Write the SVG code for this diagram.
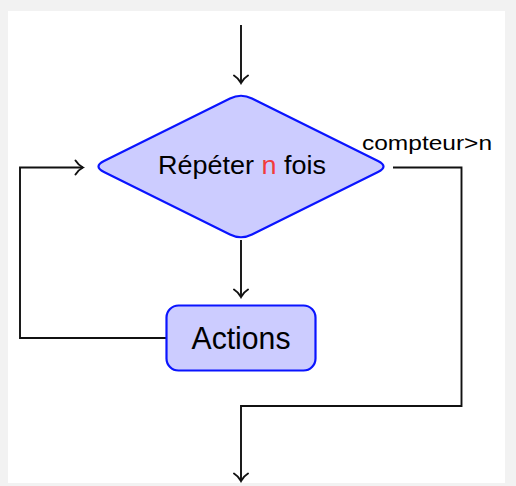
<svg xmlns="http://www.w3.org/2000/svg" width="516" height="486" viewBox="0 0 516 486">
<defs>
<style>
.node{fill:#ccccff;stroke:#0a14ff;stroke-width:2.2;stroke-linejoin:round}
.edge{fill:none;stroke:#111;stroke-width:1.9}
.lbl{font-family:"Liberation Sans","DejaVu Sans",sans-serif;fill:#000}
</style>
<marker id="arr" viewBox="-10 -10 12 20" refX="0" refY="0" markerWidth="12" markerHeight="20" markerUnits="userSpaceOnUse" orient="auto">
<path d="M -7.5,-7 C -5,-3 -2,-1 0,0 C -2,1 -5,3 -7.5,7" fill="none" stroke="#111" stroke-width="1.9" stroke-linecap="round"/>
</marker>
</defs>
<rect width="516" height="486" fill="#f2f2f2"/>
<rect x="8" y="11" width="497" height="472" fill="#ffffff"/>
<g id="connectors">
<path class="edge" d="M 241,25 V 83" marker-end="url(#arr)"/>
<path class="edge" d="M 241,240 V 297" marker-end="url(#arr)"/>
<path class="edge" d="M 166,338 H 20 V 167.5 H 83" marker-end="url(#arr)"/>
<path class="edge" d="M 393,167.5 H 461.5 V 406 H 241 V 481" marker-end="url(#arr)"/>
<text class="lbl" x="362" y="150" font-size="20" textLength="130" lengthAdjust="spacingAndGlyphs">compteur&gt;n</text>
</g>
<g id="repeter">
<path class="node" d="M 230,98.5 Q 241,93 252,98.5 L 378,161 Q 389,166.5 378,172 L 252,234.5 Q 241,240 230,234.5 L 104,172 Q 93,166.5 104,161 Z"/>
<text class="lbl" x="242" y="174" font-size="26.5" text-anchor="middle" textLength="168" lengthAdjust="spacingAndGlyphs">Répéter <tspan fill="#f23c3c">n</tspan> fois</text>
</g>
<g id="actions">
<rect class="node" x="166.5" y="305.5" width="149" height="65" rx="12"/>
<text class="lbl" x="241" y="349" font-size="31" text-anchor="middle" textLength="99" lengthAdjust="spacingAndGlyphs">Actions</text>
</g>
</svg>
